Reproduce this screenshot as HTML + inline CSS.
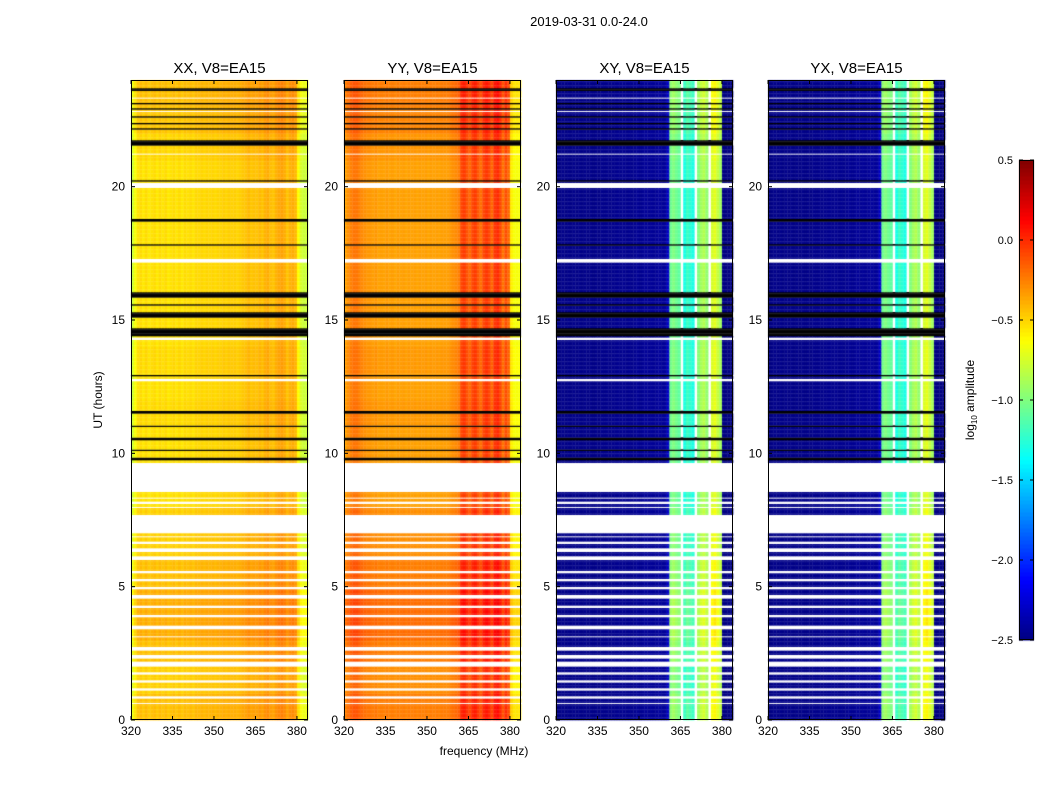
<!DOCTYPE html>
<html><head><meta charset="utf-8"><style>
html,body{margin:0;padding:0;background:#fff;width:1050px;height:800px;overflow:hidden}
#cv{position:absolute;left:0;top:0}
#sv{position:absolute;left:0;top:0}
text{font-family:"Liberation Sans",sans-serif;fill:#000}
</style></head><body>
<canvas id="cv" width="1050" height="800"></canvas>
<svg id="sv" width="1050" height="800">
<text x="589" y="26" font-size="13" text-anchor="middle">2019-03-31 0.0-24.0</text>
<text x="484" y="755" font-size="12" text-anchor="middle">frequency (MHz)</text>
<text transform="translate(102,400) rotate(-90)" font-size="12" text-anchor="middle">UT (hours)</text>
<text transform="translate(974,400) rotate(-90)" font-size="12" text-anchor="middle">log<tspan font-size="8" dy="3">10</tspan><tspan dy="-3"> amplitude</tspan></text>
<g id="ax"></g>
</svg>
<script>
const panelTitles=["XX, V8=EA15","YY, V8=EA15","XY, V8=EA15","YX, V8=EA15"];
const panelLeft=[131,344,556,768];
const xTicks=[320,335,350,365,380];
const yTicks=[0,5,10,15,20];
const cbTicks=[0.5,0.0,-0.5,-1.0,-1.5,-2.0,-2.5];
const cbLabels=["0.5","0.0","\u22120.5","\u22121.0","\u22121.5","\u22122.0","\u22122.5"];
// channel start freqs 320..383 (1 MHz each)
const chanXX=[-0.78,-0.65,-0.55,-0.52,-0.56,-0.52,-0.56,-0.54,-0.52,-0.56,-0.52,-0.55,-0.52,-0.56,-0.54,-0.52,-0.55,-0.52,-0.56,-0.52,-0.54,-0.52,-0.55,-0.51,-0.52,-0.5,-0.52,-0.5,-0.51,-0.5,-0.52,-0.5,-0.5,-0.48,-0.5,-0.48,-0.49,-0.48,-0.5,-0.48,-0.46,-0.45,-0.42,-0.46,-0.44,-0.45,-0.42,-0.45,-0.4,-0.38,-0.43,-0.45,-0.4,-0.37,-0.35,-0.38,-0.45,-0.4,-0.38,-0.42,-0.62,-0.75,-0.78,-0.78];
const chanYY=[-0.35,-0.3,-0.25,-0.22,-0.22,-0.25,-0.28,-0.3,-0.32,-0.32,-0.34,-0.32,-0.35,-0.34,-0.35,-0.33,-0.35,-0.34,-0.36,-0.34,-0.35,-0.34,-0.36,-0.34,-0.35,-0.34,-0.36,-0.34,-0.35,-0.34,-0.36,-0.34,-0.35,-0.34,-0.35,-0.34,-0.34,-0.34,-0.32,-0.3,-0.28,-0.25,-0.08,-0.05,-0.12,-0.18,-0.08,-0.05,-0.13,-0.2,-0.08,-0.03,-0.08,-0.18,-0.03,0.0,-0.08,-0.22,-0.1,-0.18,-0.58,-0.65,-0.65,-0.65];
const chanXY=[-2.5,-2.48,-2.47,-2.48,-2.47,-2.48,-2.47,-2.48,-2.47,-2.48,-2.47,-2.48,-2.47,-2.48,-2.47,-2.48,-2.46,-2.47,-2.46,-2.47,-2.46,-2.46,-2.45,-2.46,-2.45,-2.46,-2.45,-2.46,-2.45,-2.44,-2.45,-2.44,-2.43,-2.44,-2.43,-2.44,-2.43,-2.42,-2.43,-2.42,-2.3,-1.05,-1.0,-1.05,-1.1,null,-1.3,-1.2,-1.25,-1.3,null,-1.0,-0.9,-0.85,-0.95,null,-0.75,-0.7,-0.8,-0.9,-2.48,-2.5,-2.5,-2.5];
const chanYX=[-2.5,-2.48,-2.47,-2.48,-2.47,-2.48,-2.47,-2.48,-2.47,-2.48,-2.47,-2.48,-2.47,-2.48,-2.47,-2.48,-2.46,-2.47,-2.46,-2.47,-2.46,-2.46,-2.45,-2.46,-2.45,-2.46,-2.45,-2.46,-2.45,-2.44,-2.45,-2.44,-2.43,-2.44,-2.43,-2.44,-2.43,-2.42,-2.43,-2.42,-2.3,-1.05,-1.0,-1.05,-1.1,null,-1.3,-1.2,-1.25,-1.3,null,-1.0,-0.9,-0.85,-0.95,null,-0.75,-0.7,-0.8,-0.9,-2.48,-2.5,-2.5,-2.5];
// per-hour offset (hour 0..23)
const hourOffset=[0.1,0.05,0.1,0.15,0.15,0.1,0.05,0.05,0.0,0.0,0.0,0.02,0.0,0.02,0.0,0.0,0.0,0.0,0.0,0.0,0.0,0.03,0.08,0.1];
const whiteStart=[23.3,22.8,21.2,19.95,17.15,14.25,12.7,8.55,8.3,8.1,7.95,7.0,6.85,6.6,6.3,6.0,5.5,5.2,4.9,4.55,4.2,3.85,3.4,3.1,2.6,2.3,2.0,1.7,1.4,1.1,0.8,0.6];
const whiteEnd=  [23.35,22.85,21.25,20.15,17.3,14.35,12.8,9.65,8.35,8.2,8.0,7.7,6.9,6.7,6.45,6.15,5.6,5.3,5.0,4.7,4.3,3.95,3.55,3.15,2.75,2.45,2.2,1.8,1.5,1.2,0.9,0.65];
const blackStart=[23.6,23.1,22.88,22.6,22.35,22.15,21.55,20.2,18.7,17.8,15.85,15.55,15.1,14.4,12.9,11.5,11.0,10.5,10.1,9.75];
const blackEnd=  [23.68,23.15,22.93,22.65,22.4,22.2,21.75,20.25,18.78,17.85,16.05,15.6,15.3,14.7,12.95,11.6,11.05,10.6,10.15,9.85];
const chans=[chanXX,chanYY,chanXY,chanYX];

const W=177,H=640,TOP=80,FMIN=320,FMAX=384,TMIN=0,TMAX=24;
function xScale(p,f){return panelLeft[p]+(f-FMIN)/(FMAX-FMIN)*W;}
function yScale(t){return TOP+H-(t-TMIN)/(TMAX-TMIN)*H;}
const CBT=160,CBB=640,CBX=1019,CBW=15;
function cbY(v){return CBB-(v+2.5)/3*(CBB-CBT);}
function jet(v){let x=(v+2.5)/3;x=Math.max(0,Math.min(1,x));
 const r=Math.max(0,Math.min(1,1.5-Math.abs(4*x-3))),g=Math.max(0,Math.min(1,1.5-Math.abs(4*x-2))),b=Math.max(0,Math.min(1,1.5-Math.abs(4*x-1)));
 return `rgb(${Math.round(r*255)},${Math.round(g*255)},${Math.round(b*255)})`;}
function inList(t,s,e){for(let i=0;i<s.length;i++){if(t>=s[i]&&t<e[i])return true;}return false;}

const ctx=document.getElementById('cv').getContext('2d');
const dt=0.05;
for(let p=0;p<4;p++){
 const ch=chans[p];
 for(let k=0;k<TMAX/dt;k++){
  const t=k*dt,tm=t+dt/2;
  const y0=yScale(t+dt),y1=yScale(t);
  if(inList(tm,whiteStart,whiteEnd))continue;
  if(inList(tm,blackStart,blackEnd)){ctx.fillStyle='#000';ctx.fillRect(xScale(p,FMIN),y0,W,y1-y0+0.3);continue;}
  const off=hourOffset[Math.floor(t)];
  for(let c=0;c<ch.length;c++){
   if(ch[c]===null)continue;
   const v=ch[c]+(ch[c]>-2?off:0);
   ctx.fillStyle=jet(v);
   const xa=xScale(p,FMIN+c),xb=xScale(p,FMIN+c+1);
   ctx.fillRect(xa,y0,xb-xa+0.3,y1-y0+0.3);
  }
 }
}
// colorbar
for(let i=0;i<120;i++){const v=-2.5+i*0.025;ctx.fillStyle=jet(v+0.0125);const ya=cbY(v+0.025),yb=cbY(v);ctx.fillRect(CBX,ya,CBW,yb-ya+0.5);}

const NS='http://www.w3.org/2000/svg';
const ax=document.getElementById('ax');
function mk(tag,attrs,txt){const e=document.createElementNS(NS,tag);for(const k in attrs)e.setAttribute(k,attrs[k]);if(txt!==undefined)e.textContent=txt;ax.appendChild(e);return e;}
for(let p=0;p<4;p++){
 const L=panelLeft[p];
 const fr=mk('rect',{x:L+0.5,y:TOP+0.5,width:W-1,height:H-1,fill:'none',stroke:'#000','stroke-width':1});
 
 
 const ti=mk('text',{x:L+W/2,y:73,'font-size':15,'text-anchor':'middle'},panelTitles[p]);
 
 
 xTicks.forEach(f=>{const x=xScale(p,f);
  mk('line',{x1:x,x2:x,y1:TOP+H,y2:TOP+H-4,stroke:'#000'});
  mk('line',{x1:x,x2:x,y1:TOP,y2:TOP+4,stroke:'#000'});
  const tx=mk('text',{x:x,y:TOP+H+15,'font-size':12,'text-anchor':'middle'},String(f));
  
  
 });
 yTicks.forEach(t=>{const y=yScale(t);
  mk('line',{x1:L,x2:L+4,y1:y,y2:y,stroke:'#000'});
  mk('line',{x1:L+W,x2:L+W-4,y1:y,y2:y,stroke:'#000'});
  const ty=mk('text',{x:L-6,y:y+4,'font-size':12,'text-anchor':'end'},String(t));
  
  
 });
}
const cbf=mk('rect',{x:CBX+0.5,y:CBT+0.5,width:CBW-1,height:CBB-CBT-1,fill:'none',stroke:'#000'});


cbTicks.forEach((v,i)=>{const y=cbY(v);
 mk('line',{x1:CBX,x2:CBX+4,y1:y,y2:y,stroke:'#000'});
 mk('line',{x1:CBX+CBW,x2:CBX+CBW-4,y1:y,y2:y,stroke:'#000'});
 const tl=mk('text',{x:1013,y:y+4,'font-size':11,'text-anchor':'end'},cbLabels[i]);
 
 
});
</script>
</body></html>
